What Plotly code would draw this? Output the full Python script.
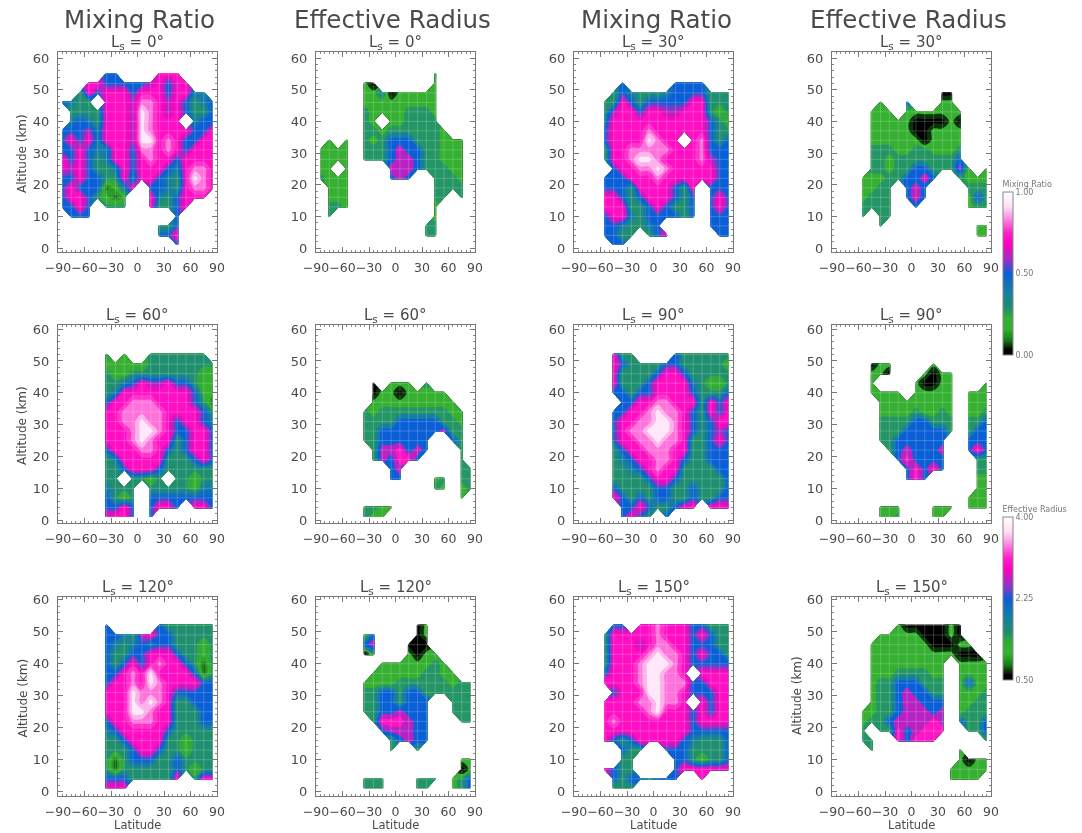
import plotly.graph_objects as go

LAT = [-85, -75, -65, -55, -45, -35, -25, -15, -5, 5, 15, 25, 35, 45, 55, 65, 75, 85]
ALT_TOP_DOWN = [58, 55, 52, 49, 46, 43, 40, 37, 34, 31, 28, 25, 22, 19, 16, 13, 10, 7, 4, 1]
X_TICKS = [-90, -60, -30, 0, 30, 60, 90]
Y_TICKS = [0, 10, 20, 30, 40, 50, 60]
SEASONS = [0, 30, 60, 90, 120, 150]

# Values in tenths of the colour-bar span, one string per altitude (top to bottom),
# one character per latitude, "." = no retrieval.
MR_LS0 = ["...... ...... ......", ".....5 5....7 77....", "...775 555567 577...", "..3757 775777 57744.",
          "5433.7 776887 675345", ".33337 776987 675335", ".45437 776987 77.455", "555647 776987 777557",
          "575747 776997 875577", "557544 775887 875777", "757534 775787 757777", "767533 475777 547887",
          "557553 374775 437987", "575551 247.55 437887", "577532 12..74 35777.", "5575.3 33..73 357...",
          ".555.. ...... .5....", "...... .....3 35....", "...... .....5 57....", "...... ...... .5...."]
ER_LS0 = ["...... ...... ......", "...... ...... .3....", ".....2 0..... .2....", ".....2 240222 22....",
          ".....2 222222 22....", ".....3 222233 32....", ".....3 2.2233 33....", ".....3 323333 332...",
          ".2.2.3 235553 33222.", "2222.3 335655 33222.", "2222.3 335665 33222.", "22.2.. ..6665 33322.",
          "3222.. ..565. .3332.", ".222.. ...... .3333.", ".222.. ...... .33.3.", ".332.. ...... .2....",
          ".3.... ...... .2....", "...... ...... 33....", "...... ...... 33....", "...... ...... ......"]
MR_LS30 = ["...... ...... ......", "...... ...... ......", ".....5 .....5 555...", "....35 433345 555333",
           "...337 535555 577333", "...367 757766 777323", "...477 777777 777532", "...577 778777 777533",
           "...577 779877 .78535", "...377 888887 778555", "...377 899877 778655", "....57 788987 777755",
           "...555 777877 777755", "...555 377775 37.555", "...775 357775 35.575", "...777 335753 35.575",
           "...577 435555 35.555", "...554 3345.. ...555", "...553 3.357. ....55", "....55 ...... ......"]
ER_LS30 = ["...... ...... ......", "...... ...... ......", "...... ...... ......", "...... ...... 00....",
           ".....2 ..5... 22....", "....22 2.2222 222...", "....22 222000 020...", "....22 222002 222...",
           "....22 222202 222...", "....33 322332 223...", "....33 233333 335...", "....33 233553 3362.2",
           "...222 335565 ..3222", "...223 3.565. ...333", "...233 3.565. ...253", "...333 3..5.. ...233",
           "...3.3 3..... ......", ".....3 ...... ....22", "...... ...... ....22", "...... ...... ......"]
MR_LS60 = ["...... ...... ......", "...... ...... ......", ".....3 .2..33 33333.", ".....2 222233 333333",
           ".....3 223333 333322", ".....3 345766 755322", ".....3 477777 777522", ".....5 778887 777531",
           ".....7 788888 777753", ".....7 788988 757754", ".....7 778998 755775", ".....7 778987 735775",
           ".....5 777887 535775", ".....3 477777 333575", ".....3 357775 333333", ".....3 3.3323 .33233",
           ".....4 333.33 333244", ".....5 323.55 555555", ".....5 575.57 75.775", ".....7 775.5. ......"]
ER_LS60 = ["...... ...... ......", "...... ...... ......", "...... ...... ......", "...... ...... ......",
           "...... ...... ......", "...... 0.222. 3.....", "...... 022022 222...", "...... 222222 2222..",
           ".....3 233333 33322.", ".....3 333555 55332.", ".....3 355555 55633.", ".....3 355555 5..53.",
           "...... 366756 5...3.", "...... 365775 ....3.", "...... ..56.. ....33", "...... ..55.. .23.33",
           "...... ...... .32.23", "...... ...... ....2.", ".....3 322... ......", ".....3 22.... ......"]
MR_LS90 = ["...... ...... ......", "...... ...... ......", "....73 3....5 333333", "....75 333355 333332",
           "....73 333577 533333", "....73 335777 743223", "....55 355777 753335", ".....5 577887 773757",
           "....55 778988 753757", "....57 788998 753577", "....57 889998 753565", "....57 788988 733575",
           "....35 778887 733555", "....34 577887 533555", "....33 457877 333355", "....33 335775 333335",
           "....53 333553 353335", "....75 353553 353355", ".....5 575335 77.777", ".....5 753.5. ......"]
ER_LS90 = ["...... ...... ......", "...... ...... ......", "...... ...... ......", "....02 2....2 ......",
           "....22 0...20 22....", "....2. ...200 22...2", "....22 22.222 22.222", ".....2 222222 22.222",
           ".....2 222322 32.223", ".....3 333553 33.335", ".....3 335555 53.355", ".....3 355555 5..555",
           "...... 356555 6..575", "...... .57555 5...33", "...... ..5757 5...33", "...... ..575. ....22",
           "...... ...... ....22", "...... ...... ...222", ".....2 22...2 22.222", ".....2 23...2 2....."]
MR_LS120 = ["...... ...... ......", "...... ...... ......", ".....5 .....5 333333", ".....5 543675 533333",
            ".....5 434545 533323", ".....5 335577 753323", ".....5 357578 775313", ".....5 578797 777513",
            ".....5 778798 777755", ".....7 779888 755555", ".....7 779898 733555", ".....7 779987 733355",
            ".....5 778887 733355", ".....4 577777 533333", ".....3 357777 332333", ".....3 335775 332333",
            ".....3 135553 353333", ".....3 133333 353233", ".....5 553333 37.377", ".....7 77.... ......"]
ER_LS120 = ["...... ...... ......", "...... ...... ......", "...... .....0 2.....", ".....2 5....0 2.....",
            ".....5 6...00 0.....", ".....0 3...20 22....", "...... .22222 232...", "...... 222222 3322..",
            ".....2 222333 333233", ".....3 355355 333333", ".....3 355355 5..333", ".....3 355655 5..333",
            "...... 377765 5...33", "...... .56665 5.....", "...... ..3565 5.....", "...... ..3..3 ......",
            "...... ...... ....22", "...... ...... ....02", ".....3 33...3 33.235", ".....3 33...3 3..235"]
MR_LS150 = ["...... ...... ......", "...... ...... ......", "....55 .77877 755333", "...377 777877 757533",
            "...377 767887 755533", "...377 778988 757553", "...377 789998 755555", "...577 789988 7.7777",
            "...777 789988 855777", "....57 779988 755577", "...777 788988 7.7577", "...777 778977 757577",
            "...787 777777 757777", "...777 777777 755555", "...753 577777 543335", ".....5 33..55 533335",
            ".....3 3....5 532335", "...753 3....5 777777", "....53 553555 ..7...", "....33 3..... ......"]
ER_LS150 = ["...... ...... ......", "...... ...... ......", "...... .20000 020...", ".....2 222200 020...",
            "....22 222220 0022..", "....22 222222 22000.", "....22 222222 2.2222", "....22 233332 2.2222",
            "....23 355533 3.2522", "....23 356553 3.2223", "....23 356655 5.2233", "...223 356665 6.2333",
            "...233 566667 6.5335", "...3.3 375677 7..335", "...33. .75777 .....3", "....3. ...... ..2...",
            "...... ...... ..2022", "...... ...... .22222", "...... ...... .2222.", "...... ...... ......"]

PANELS = [MR_LS0, ER_LS0, MR_LS30, ER_LS30, MR_LS60, ER_LS60, MR_LS90, ER_LS90,
          MR_LS120, ER_LS120, MR_LS150, ER_LS150]

MR_MIN, MR_MAX = 0.0, 1.0
ER_MIN, ER_MID, ER_MAX = 0.5, 2.25, 4.0

COLORSCALE = [[0.0, "#000000"], [0.03, "#000000"], [0.09, "#167a16"], [0.16, "#35b030"], [0.22, "#35b030"],
              [0.30, "#1d8a78"], [0.38, "#1680a0"], [0.50, "#0a5fd6"], [0.58, "#9a30c4"], [0.68, "#ff00bf"],
              [0.75, "#ff22c8"], [0.84, "#ff90e2"], [0.91, "#ffe2f7"], [1.0, "#ffffff"]]

W, H = 1082, 833
COL_PX = [(58, 217), (316, 475), (574, 733), (832, 991)]
ROW_PX = [(52, 252), (325, 523), (597, 796)]
ROW_RANGE = [(-1.25, 61.9), (-0.9, 61.3), (-1.35, 60.9)]
INK = "#4a4a4a"
FONT = "DejaVu Sans"


def decode(rows, lo, hi):
    out = []
    for row in reversed(rows):
        cells = row.replace(" ", "").ljust(len(LAT), ".")[:len(LAT)]
        out.append([None if c == "." else lo + int(c) / 10 * (hi - lo) for c in cells])
    return out


fig = go.Figure()
layout = dict(width=W, height=H, margin=dict(l=0, r=0, t=0, b=0, autoexpand=False), paper_bgcolor="white",
              plot_bgcolor="white", showlegend=False, font=dict(family=FONT, color=INK), autosize=False)
notes = []


def note(x, y, text, size, **kw):
    notes.append(dict(x=x / W, y=1 - y / H, xref="paper", yref="paper", text=text, showarrow=False,
                      font=dict(size=size, color=INK, family=FONT), xanchor="center", yanchor="middle", **kw))


grid_x, grid_y = [], []
for la in LAT:
    grid_x += [la, la, None]
    grid_y += [0, 60, None]
for al in ALT_TOP_DOWN:
    grid_x += [-90, 90, None]
    grid_y += [al, al, None]

for i, rows in enumerate(PANELS):
    r, c = i // 4, i % 4
    n = i + 1
    xname, yname = f"xaxis{n}", f"yaxis{n}"
    x0, x1 = COL_PX[c]
    y0, y1 = ROW_PX[r]
    layout[xname] = dict(domain=[x0 / W, x1 / W], range=[-90, 90], anchor=f"y{n}", tickvals=X_TICKS,
                         ticks="inside", ticklen=5, tickcolor="#777", tickangle=0, showgrid=False, zeroline=False,
                         showline=True, linecolor="#777", linewidth=1, mirror="ticks", ticklabelstandoff=4,
                         tickfont=dict(size=12.5, color=INK, family=FONT),
                         minor=dict(dtick=5, ticks="inside", ticklen=2, tickcolor="#888", showgrid=False))
    layout[yname] = dict(domain=[1 - y1 / H, 1 - y0 / H], range=list(ROW_RANGE[r]), anchor=f"x{n}", tickvals=Y_TICKS,
                         ticks="inside", ticklen=5, tickcolor="#777", showgrid=False, zeroline=False,
                         showline=True, linecolor="#777", linewidth=1, mirror="ticks", ticklabelstandoff=5,
                         tickfont=dict(size=13, color=INK, family=FONT),
                         minor=dict(dtick=2, ticks="inside", ticklen=2, tickcolor="#888", showgrid=False))
    is_mr = c % 2 == 0
    lo, hi = (MR_MIN, MR_MAX) if is_mr else (ER_MIN, ER_MAX)
    step = (hi - lo) / (20 if is_mr else 10)
    fig.add_trace(go.Contour(x=LAT, y=ALT_TOP_DOWN[::-1], z=decode(rows, lo, hi), xaxis=f"x{n}", yaxis=f"y{n}",
                             zmin=lo, zmax=hi, colorscale=COLORSCALE, showscale=False, connectgaps=False,
                             line=dict(width=0), autocontour=False,
                             contours=dict(coloring="fill", showlines=False, start=lo + step / 2, end=hi, size=step)))
    fig.add_trace(go.Scatter(x=grid_x, y=grid_y, mode="lines", xaxis=f"x{n}", yaxis=f"y{n}", hoverinfo="skip",
                             line=dict(color="rgba(255,255,255,0.2)", width=1)))
    season = SEASONS[r * 2 + c // 2]
    note((x0 + x1) / 2, y0 - 10, f"L<sub>s</sub> = {season}°", 15)

for cx, t in zip([139, 392, 656, 908], ["Mixing Ratio", "Effective Radius", "Mixing Ratio", "Effective Radius"]):
    note(cx, 20, t, 24.5)
for cy in [(ROW_PX[k][0] + ROW_PX[k][1]) / 2 + 2 for k in range(3)]:
    note(22, cy, "Altitude (km)", 12, textangle=-90)
note(797, 696, "Altitude (km)", 12, textangle=-90)
for x0, x1 in COL_PX:
    note((x0 + x1) / 2, 825, "Latitude", 11.5)

layout["annotations"] = notes
fig.update_layout(**layout)


def key(lo, hi, ticks, labels, title, top):
    fig.add_trace(go.Scatter(x=[None, None], y=[None, None], mode="markers", xaxis="x1", yaxis="y1", hoverinfo="skip",
                             marker=dict(color=[lo, hi], cmin=lo, cmax=hi, colorscale=COLORSCALE, showscale=True,
                                         colorbar=dict(x=1003 / W, xanchor="left", xpad=0, ypad=0, y=1 - top / H, yanchor="top",
                                                       lenmode="pixels", len=177, thickness=10, thicknessmode="pixels",
                                                       outlinecolor="#888", outlinewidth=1, tickvals=ticks, ticktext=labels,
                                                       ticks="", ticklabelposition="outside",
                                                       tickfont=dict(size=8, color="#777", family=FONT),
                                                       title=dict(text=title, side="top", font=dict(size=8, color="#777", family=FONT))))))


key(MR_MIN, MR_MAX, [0, 0.5, 1], ["0.00", "0.50", "1.00"], "Mixing Ratio", 178)
key(ER_MIN, ER_MAX, [ER_MIN, ER_MID, ER_MAX], ["0.50", "2.25", "4.00"], "Effective Radius", 503)

fig.write_html("out.html", config={"displayModeBar": False},
               post_script="document.body.style.margin='0';document.querySelectorAll('.main-svg').forEach(function(s){s.style.filter='blur(0.6px)';});")
